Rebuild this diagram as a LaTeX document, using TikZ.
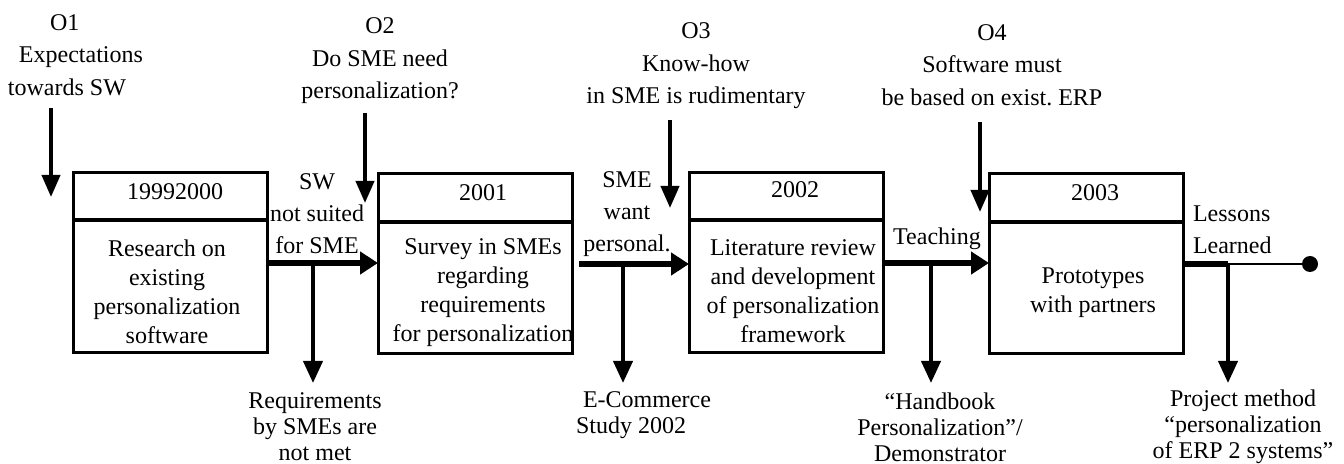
\documentclass[tikz,border=0pt]{standalone}
\usepackage{fontspec}
\setmainfont{Liberation Serif}
\usetikzlibrary{arrows.meta}
\begin{document}
\frenchspacing
\begin{tikzpicture}[x=0.5pt,y=-0.5pt,
  every node/.style={inner sep=0pt,outer sep=0pt},
  txt/.style={font=\fontsize{12pt}{14.5pt}\selectfont,align=center},
  toplbl/.style={font=\fontsize{12pt}{16.2pt}\selectfont,align=center},
  midlbl/.style={font=\fontsize{12pt}{16pt}\selectfont,align=center},
  botlbl/.style={font=\fontsize{12pt}{13pt}\selectfont,align=center},
  stagebox/.style={draw,line width=1.5pt,minimum width=97pt,minimum height=90pt},
  divider/.style={line width=2pt},
  topar/.style={line width=2pt,-{Triangle[length=11pt,width=9pt]}},
  mainar/.style={line width=3pt,-{Triangle[length=9pt,width=11pt]}},
  brar/.style={line width=2pt,-{Triangle[length=11pt,width=9.5pt]}}
]
\useasboundingbox (0,0) rectangle (1344,464);

% boxes
\node[stagebox] (b1) at (170,263) {};
\node[stagebox] (b2) at (475,264) {};
\node[stagebox] (b3) at (786,263) {};
\node[stagebox] (b4) at (1086,264) {};
\draw[divider] (b1.west |- 0,220) -- (b1.east |- 0,220);
\draw[divider] (b2.west |- 0,222) -- (b2.east |- 0,222);
\draw[divider] (b3.west |- 0,220) -- (b3.east |- 0,220);
\draw[divider] (b4.west |- 0,222) -- (b4.east |- 0,222);

% year texts
\node[txt] (y1) at (175,192) {19992000};
\node[txt] (y2) at (483,193) {2001};
\node[txt] (y3) at (795,190) {2002};
\node[txt] (y4) at (1095,193) {2003};

% body texts
\node[txt] (t1) at (167,292) {Research on\\existing\\personalization\\software};
\node[txt] (t2) at (483,293) {Survey in SMEs\\regarding\\requirements\\for personalization};
\node[txt] (t3) at (793,291) {Literature review\\and development\\of personalization\\framework};
\node[txt] (t4) at (1093,293) {Prototypes\\with partners};

% top labels
\node[toplbl,align=left,anchor=west] (o1) at (8,55) {\hspace{21pt}O1\\\hspace{5.5pt}Expectations\\towards SW};
\node[toplbl] (o2) at (380,61) {O2\\Do SME need\\personalization?};
\node[toplbl] (o3) at (696,66) {O3\\Know-how\\in SME is rudimentary};
\node[toplbl] (o4) at (992,65) {O4\\Software must\\be based on exist. ERP};

\coordinate (o1s) at (51,108);  \coordinate (o1e) at (51,197);
\coordinate (o2s) at (365,113); \coordinate (o2e) at (365,203);
\coordinate (o3s) at (670,120); \coordinate (o3e) at (670,208);
\coordinate (o4s) at (980,122); \coordinate (o4e) at (980,212);
\draw[topar] (o1s) -- (o1e);
\draw[topar] (o2s) -- (o2e);
\draw[topar] (o3s) -- (o3e);
\draw[topar] (o4s) -- (o4e);

% middle labels
\node[midlbl] (m1) at (317,214) {SW\\not suited\\for SME};
\node[midlbl] (m2) at (627,214) {SME\\want\\personal.};
\node[midlbl] (m3) at (937,239) {Teaching};
\node[midlbl,align=left,anchor=west] (m4) at (1193,230) {Lessons\\Learned};

% main arrows
\draw[mainar] (b1.east) -- (b1.east -| b2.west);
\draw[mainar] ([xshift=3.5pt]b2.east) -- (b2.east -| b3.west);
\draw[mainar] (b3.east) -- (b3.east -| b4.west);

% lessons line and end dot
\coordinate (j4) at (1228,264);
\node[circle,fill,minimum size=8pt] (dot) at (1310,264) {};
\draw[line width=3pt] (b4.east) -- (j4);
\draw[line width=1pt] (j4) -- (dot);

% branch junctions and tips
\coordinate (j1) at (313,264);  \coordinate (e1) at (313,383);
\coordinate (j2) at (623,264);  \coordinate (e2) at (623,383);
\coordinate (j3) at (931,263);  \coordinate (e3) at (931,383);
\coordinate (e4) at (1228,383);
\draw[brar] (j1) -- (e1);
\draw[brar] (j2) -- (e2);
\draw[brar] (j3) -- (e3);
\draw[brar] (j4) -- (e4);

% bottom labels
\node[botlbl] (r1) at (315,427) {Requirements\\by SMEs are\\not met};
\node[botlbl,align=left,anchor=west] (r2) at (576,415) {\hspace{3.5pt}E-Commerce\\Study 2002};
\node[botlbl] (r3) at (940,427) {“Handbook\\Personalization”/\\Demonstrator};
\node[botlbl] (r4) at (1243,427) {Project method\\“personalization\\of ERP 2 systems”};
\end{tikzpicture}
\end{document}
